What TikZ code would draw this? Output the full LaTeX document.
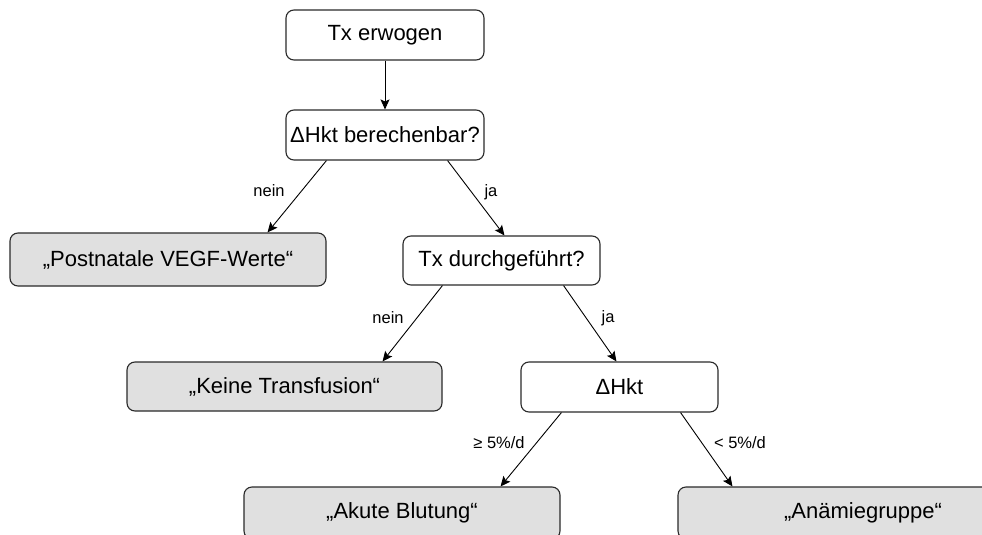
\documentclass[tikz,border=0pt]{standalone}
\usepackage{fontspec}
\setmainfont{Liberation Sans}
\usetikzlibrary{arrows.meta}
\definecolor{boxgray}{HTML}{E0E0E0}
\definecolor{edge}{HTML}{2A2A2A}
\begin{document}
\begin{tikzpicture}[x=1pt,y=-1pt,
  box/.style={draw=edge, line width=1.1pt, rounded corners=8pt, inner sep=0pt,
    minimum width=#1, minimum height=50pt, font=\fontsize{22}{26}\selectfont, fill=white},
  graybox/.style={box=#1, fill=boxgray},
  arr/.style={draw=black, line width=0.9pt, -{Stealth[length=10pt,width=9pt,inset=2pt]}},
  lbl/.style={font=\fontsize{16.5}{19}\selectfont, inner sep=0pt}]
\useasboundingbox (0,0) rectangle (982,535);
\clip (0,0) rectangle (982,535);
\fill[white] (0,0) rectangle (982,535);

\node[box=198pt] (top) at (385,35) {Tx erwogen};
\node[box=198pt] (b) at (385,135) {ΔHkt berechenbar?};
\node[graybox=316pt, minimum height=53pt] (p) at (168,259.5) {„Postnatale VEGF-Werte“};
\node[box=197pt, minimum height=49pt] (t) at (501.5,260.5) {Tx durchgeführt?};
\node[graybox=315pt, minimum height=49pt] (k) at (284.5,386.5) {„Keine Transfusion“};
\node[box=197pt] (h) at (619.5,387) {ΔHkt};
\node[graybox=316pt, minimum height=52pt] (a) at (402,513) {„Akute Blutung“};
\node[graybox=370pt, minimum height=52pt] (n) at (863,513) {„Anämiegruppe“};

\draw[arr] (top.south) -- (b.north);
\draw[arr] ([xshift=41pt]b.south west) -- ([xshift=-59pt]p.north east);
\draw[arr] ([xshift=-37pt]b.south east) -- ([xshift=102pt]t.north west);
\draw[arr] ([xshift=40pt]t.south west) -- ([xshift=-60pt]k.north east);
\draw[arr] ([xshift=-37pt]t.south east) -- ([xshift=96pt]h.north west);
\draw[arr] ([xshift=41pt]h.south west) -- ([xshift=-60pt]a.north east);
\draw[arr] ([xshift=-38pt]h.south east) -- ([xshift=55pt]n.north west);

\node[lbl] (l1) at (269,191) {nein};
\node[lbl] (l2) at (491,192) {ja};
\node[lbl] (l3) at (388,318) {nein};
\node[lbl] (l4) at (608,318) {ja};
\node[lbl] (l5) at (499,443) {≥ 5\%/d};
\node[lbl] (l6) at (740,443) {< 5\%/d};
\end{tikzpicture}
\end{document}
